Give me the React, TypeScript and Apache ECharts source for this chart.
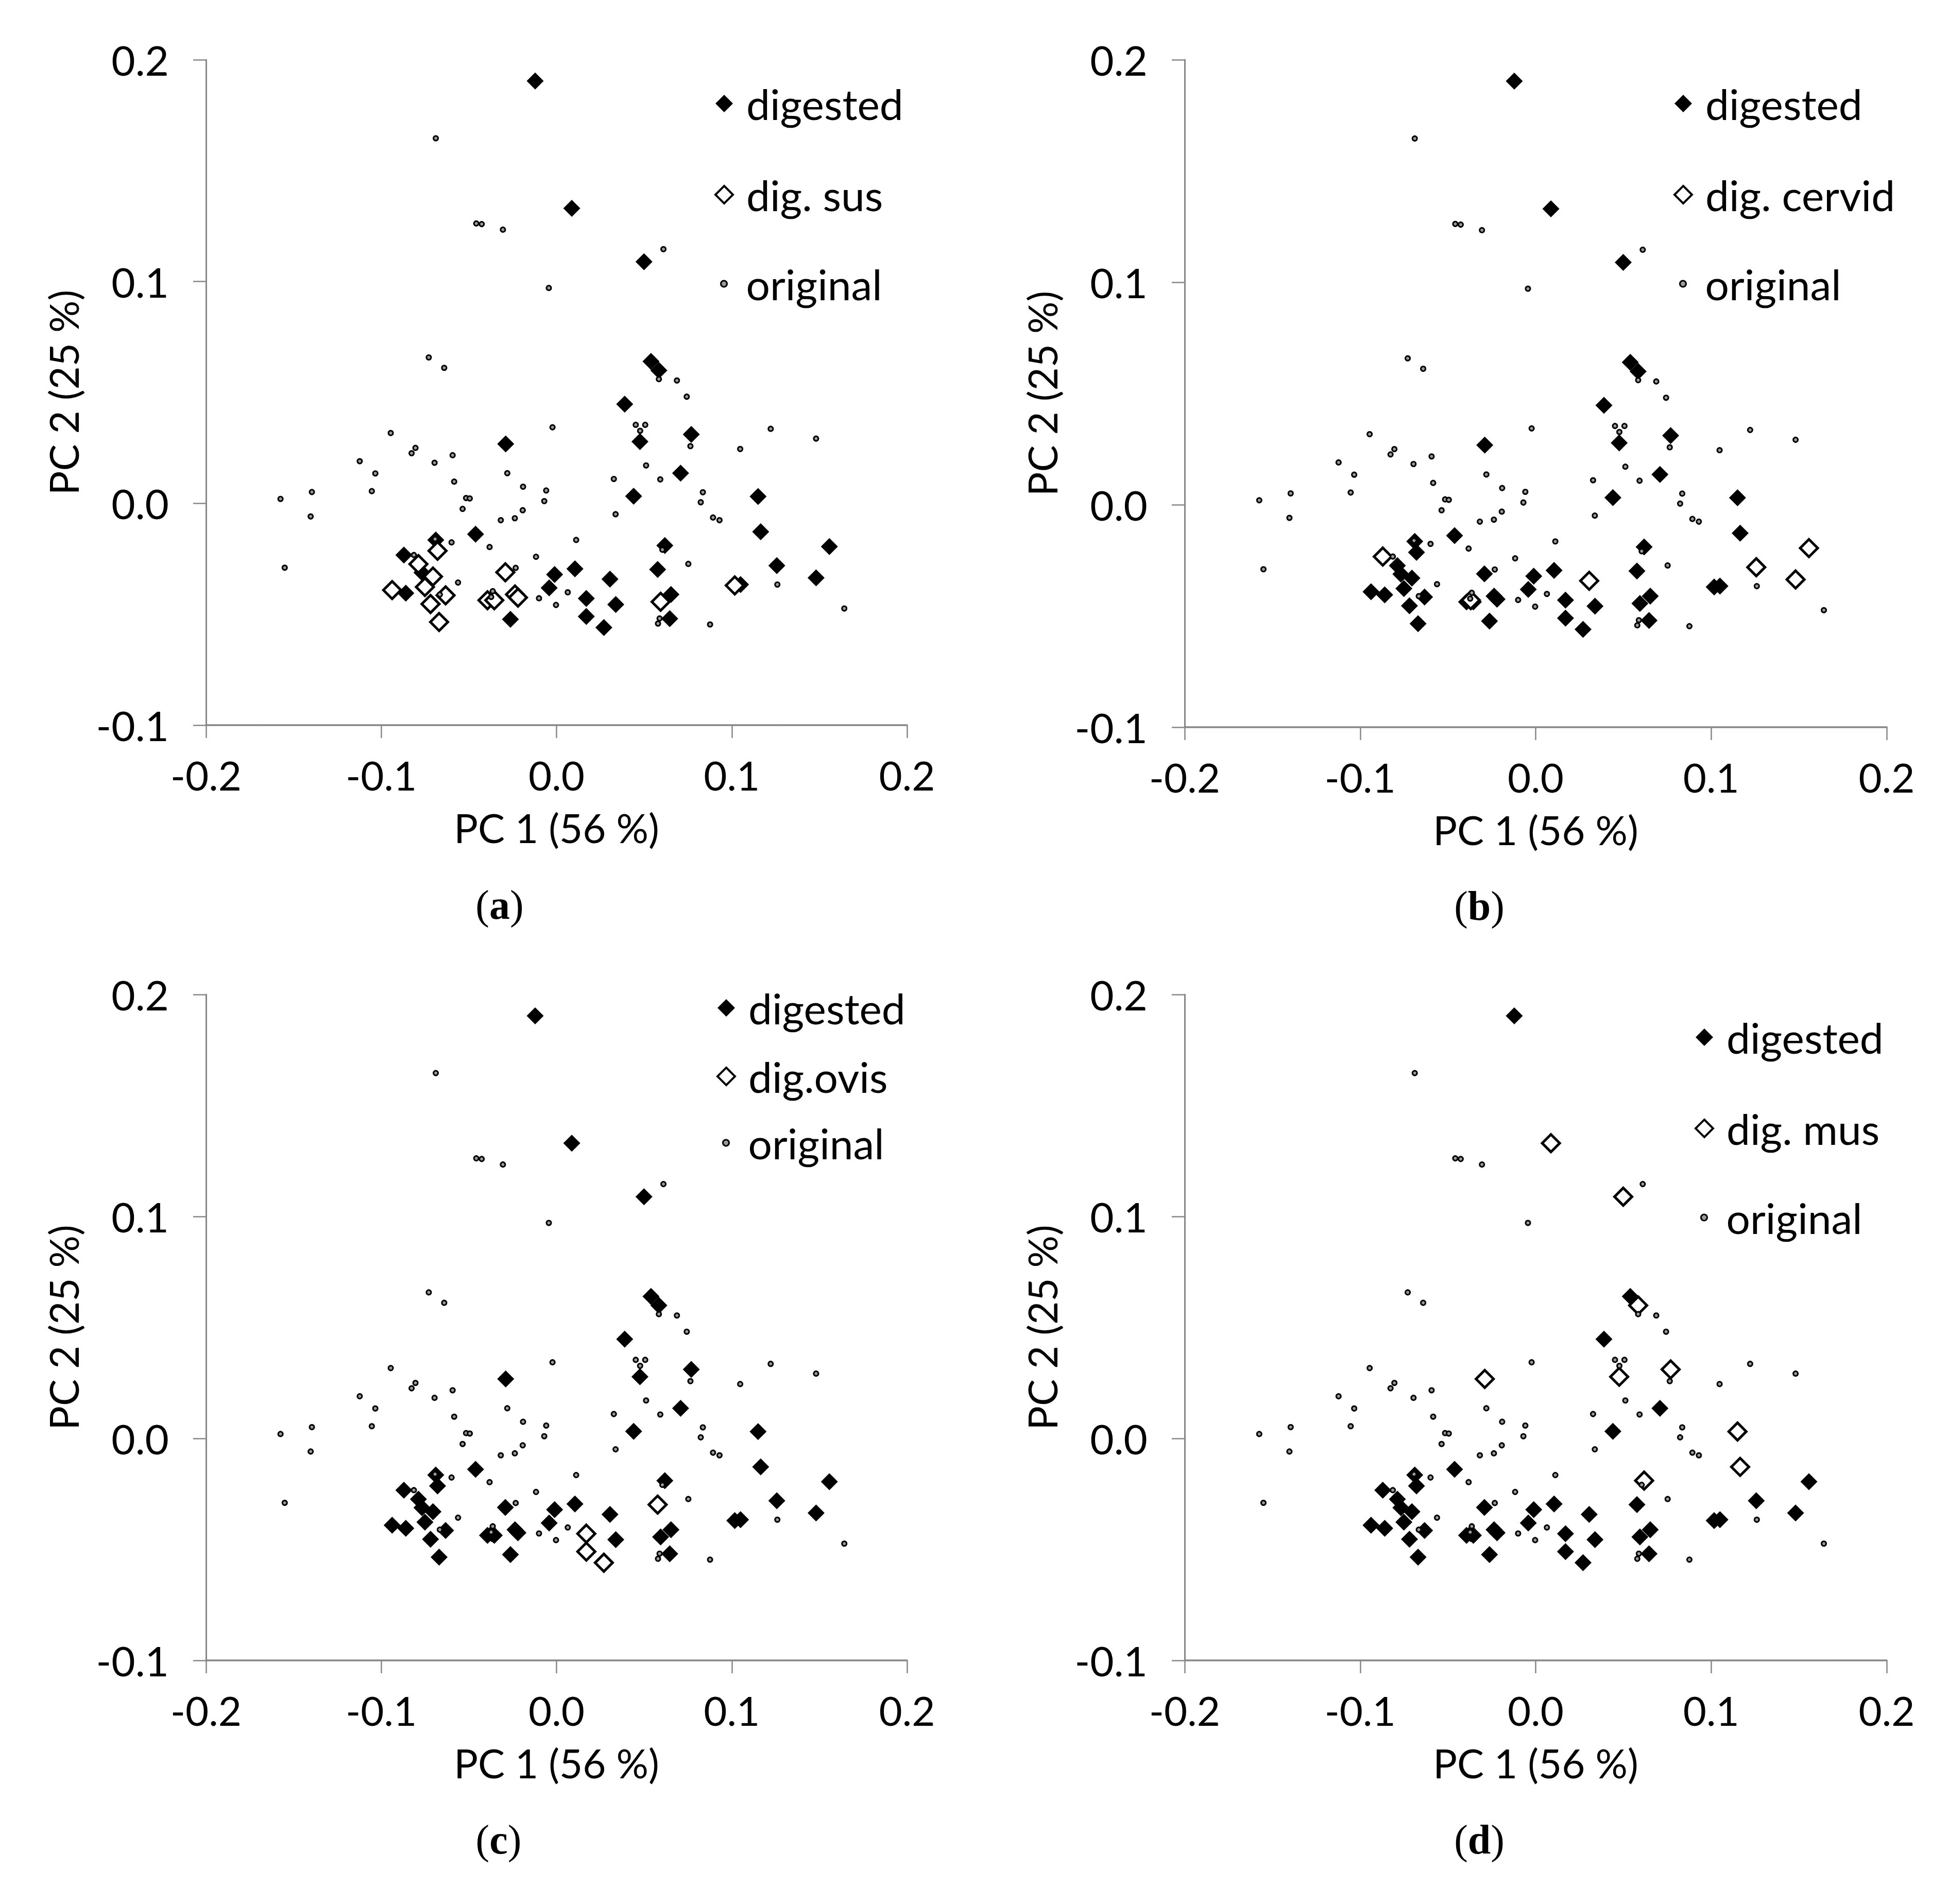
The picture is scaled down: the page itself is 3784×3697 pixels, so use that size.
import React, { useEffect, useRef } from 'react';
import * as echarts from 'echarts';

// ---- data (PC1, PC2) ----
const original: number[][] = [
  [-0.0689, 0.1646], [-0.0458, 0.1262], [-0.0427, 0.1259], [-0.0306, 0.1234], [0.0610, 0.1146],
  [-0.0044, 0.0971], [-0.0729, 0.0658], [-0.0641, 0.0611], [-0.0946, 0.0317], [-0.0805, 0.0250],
  [-0.0827, 0.0226], [-0.1123, 0.0190], [-0.0593, 0.0217], [-0.0696, 0.0183], [-0.1034, 0.0135],
  [-0.0281, 0.0136], [-0.0023, 0.0343], [-0.1396, 0.0051], [-0.1575, 0.0020], [-0.1054, 0.0055],
  [-0.0584, 0.0098], [-0.0516, 0.0024], [-0.0495, 0.0022], [-0.0191, 0.0075], [-0.0059, 0.0058],
  [-0.0070, 0.0010], [-0.0536, -0.0025], [-0.0193, -0.0031], [-0.0318, -0.0076], [-0.0238, -0.0067],
  [-0.1403, -0.0059], [-0.0599, -0.0176], [-0.0382, -0.0197], [0.0112, -0.0165], [-0.1551, -0.0290],
  [-0.0814, -0.0233], [-0.0562, -0.0357], [-0.0117, -0.0241], [-0.0233, -0.0291], [0.0064, -0.0401],
  [-0.0100, -0.0428], [-0.0003, -0.0458], [-0.0666, -0.0411], [-0.0364, -0.0396], [-0.0373, -0.0422],
  [-0.0693, -0.0161], [0.0584, 0.0560], [0.0687, 0.0554], [0.0743, 0.0481], [0.0452, 0.0354],
  [0.0506, 0.0354], [0.0477, 0.0327], [0.0764, 0.0258], [0.1222, 0.0336], [0.1481, 0.0292],
  [0.1048, 0.0245], [0.0511, 0.0171], [0.0327, 0.0110], [0.0592, 0.0108], [0.0835, 0.0050],
  [0.0823, 0.0005], [0.0337, -0.0049], [0.0893, -0.0064], [0.0930, -0.0076], [0.0604, -0.0209],
  [0.0752, -0.0273], [0.1260, -0.0366], [0.1642, -0.0474], [0.0588, -0.0519], [0.0579, -0.0542],
  [0.0876, -0.0546],
];

// digested samples not belonging to any highlighted group
const digOther: number[][] = [
  [-0.0122, 0.1904], [0.0539, 0.0640], [0.0389, 0.0447], [0.0708, 0.0136], [0.0440, 0.0032],
  [0.0338, -0.0456], [0.0653, -0.0411], [0.0646, -0.0520], [0.1050, -0.0366], [-0.0462, -0.0139],
  [-0.0689, -0.0165], [-0.0768, -0.0312], [-0.0860, -0.0405], [-0.0263, -0.0523], [-0.0011, -0.0321],
  [-0.0042, -0.0381], [0.0105, -0.0295],
];

const digSus: number[][] = [
  [-0.0679, -0.0214], [-0.0788, -0.0274], [-0.0705, -0.0330], [-0.0751, -0.0377], [-0.0938, -0.0391],
  [-0.0633, -0.0415], [-0.0719, -0.0454], [-0.0670, -0.0535], [-0.0292, -0.0311], [-0.0394, -0.0437],
  [-0.0355, -0.0437], [-0.0237, -0.0411], [-0.0220, -0.0425], [0.0594, -0.0444], [0.1017, -0.0370],
];

const digCervid: number[][] = [
  [-0.0871, -0.0233], [0.0305, -0.0342], [0.1557, -0.0195], [0.1257, -0.0281], [0.1481, -0.0336],
  [-0.0370, -0.0429],
];

const digOvis: number[][] = [
  [0.0577, -0.0298], [0.0270, -0.0560], [0.0170, -0.0429], [0.0170, -0.0510],
];

const digMus: number[][] = [
  [0.0087, 0.1330], [0.0499, 0.1089], [0.0584, 0.0599], [0.0476, 0.0278], [0.0769, 0.0311],
  [0.1150, 0.0031], [0.1165, -0.0128], [0.0618, -0.0190], [-0.0290, 0.0268],
];

const groups: Record<string, number[][]> = { sus: digSus, cervid: digCervid, ovis: digOvis, mus: digMus };

const xRange = [-0.2, 0.2];
const yRange = [-0.1, 0.2];
const tickStep = 0.1;
const xName = 'PC 1 (56 %)';
const yName = 'PC 2 (25 %)';

const FONT = 'Lato';
const FS = 78;
const LFS = 82;

const panels = [
  { group: 'sus', label: 'dig. sus', caption: 'a', grid: { left: 400, top: 116, width: 1361, height: 1292 }, lg: { x: 1404, y: 200, pitch: 175 }, cap: { x: 970, y: 1762 } },
  { group: 'cervid', label: 'dig. cervid', caption: 'b', grid: { left: 2300, top: 116, width: 1363, height: 1296 }, lg: { x: 3266, y: 200, pitch: 175 }, cap: { x: 2872, y: 1764 } },
  { group: 'ovis', label: 'dig.ovis', caption: 'c', grid: { left: 400, top: 1931, width: 1361, height: 1293 }, lg: { x: 1408, y: 1956, pitch: 131 }, cap: { x: 968, y: 3577 } },
  { group: 'mus', label: 'dig. mus', caption: 'd', grid: { left: 2300, top: 1931, width: 1363, height: 1293 }, lg: { x: 3307, y: 2013, pitch: 175 }, cap: { x: 2872, y: 3577 } },
];

const axisColor = '#878787';

function buildOption() {
  const grid: any[] = [];
  const xAxis: any[] = [];
  const yAxis: any[] = [];
  const series: any[] = [];
  const legend: any[] = [];
  const title: any[] = [];

  panels.forEach((p, i) => {
    grid.push({ ...p.grid });
    xAxis.push({
      type: 'value', gridIndex: i, min: xRange[0], max: xRange[1], interval: tickStep,
      name: xName, nameLocation: 'middle', nameGap: 160,
      nameTextStyle: { fontFamily: FONT, fontSize: FS, color: '#000' },
      axisLine: { show: true, onZero: false, lineStyle: { color: axisColor, width: 3.5 } },
      axisTick: { show: true, length: 25, lineStyle: { color: axisColor, width: 2.5 } },
      axisLabel: { fontFamily: FONT, fontSize: FS, color: '#000', margin: 58, formatter: (v: number) => v.toFixed(1) },
      splitLine: { show: false },
    });
    yAxis.push({
      type: 'value', gridIndex: i, min: yRange[0], max: yRange[1], interval: tickStep,
      name: yName, nameLocation: 'middle', nameGap: 238, nameRotate: 90,
      nameTextStyle: { fontFamily: FONT, fontSize: FS, color: '#000' },
      axisLine: { show: true, onZero: false, lineStyle: { color: axisColor, width: 3 } },
      axisTick: { show: true, length: 25, lineStyle: { color: axisColor, width: 2.5 } },
      axisLabel: { fontFamily: FONT, fontSize: FS + 2, color: '#000', margin: 72, formatter: (v: number) => v.toFixed(1) },
      splitLine: { show: false },
    });

    const black: number[][] = [...digOther];
    Object.keys(groups).forEach((k) => { if (k !== p.group) black.push(...groups[k]); });

    series.push({
      type: 'scatter', name: 'digested', xAxisIndex: i, yAxisIndex: i, data: black,
      symbol: 'diamond', symbolSize: 33, itemStyle: { color: '#000', borderWidth: 0, opacity: 1 },
    });
    series.push({
      type: 'scatter', name: p.label, xAxisIndex: i, yAxisIndex: i, data: groups[p.group],
      symbol: 'diamond', symbolSize: 34, itemStyle: { color: '#fff', borderColor: '#000', borderWidth: 5, opacity: 1 },
    });
    series.push({
      type: 'scatter', name: 'original', xAxisIndex: i, yAxisIndex: i, data: original,
      symbol: 'circle', symbolSize: 9, itemStyle: { color: '#9a9a9a', borderColor: '#000', borderWidth: 3, opacity: 1 },
    });

    const lh = 80;
    legend.push({
      orient: 'vertical', left: p.lg.x - 17, top: p.lg.y - lh / 2, padding: 0,
      itemWidth: 34, itemHeight: 34, itemGap: p.lg.pitch - lh,
      selectedMode: false,
      textStyle: { fontFamily: FONT, fontSize: LFS, lineHeight: lh, color: '#000', padding: [0, 0, 0, 21] },
      data: [
        { name: 'digested', icon: 'diamond', itemStyle: { color: '#000', borderWidth: 0, opacity: 1 } },
        { name: p.label, icon: 'diamond', itemStyle: { color: '#fff', borderColor: '#000', borderWidth: 4, opacity: 1 } },
      ],
    });
    legend.push({
      orient: 'vertical', left: p.lg.x - 6, top: p.lg.y + 2 * p.lg.pitch - lh / 2, padding: 0,
      itemWidth: 12, itemHeight: 12, selectedMode: false,
      textStyle: { fontFamily: FONT, fontSize: LFS, lineHeight: lh, color: '#000', padding: [0, 0, 0, 32] },
      data: [{ name: 'original', icon: 'circle', itemStyle: { color: '#9a9a9a', borderColor: '#000', borderWidth: 3, opacity: 1 } }],
    });

    title.push({
      text: `{p|(}{b|${p.caption}}{p|)}`,
      left: p.cap.x, top: p.cap.y - 45, textAlign: 'center', padding: 0,
      textStyle: {
        rich: {
          p: { fontFamily: 'Liberation Serif', fontSize: 80, color: '#000', fontWeight: 'normal' },
          b: { fontFamily: 'Liberation Serif', fontSize: 80, color: '#000', fontWeight: 'bold' },
        },
      },
    });
  });

  return { animation: false, backgroundColor: '#fff', grid, xAxis, yAxis, series, legend, title };
}

export default function App() {
  const ref = useRef<HTMLDivElement>(null);
  useEffect(() => {
    if (!ref.current) return;
    const chart = echarts.init(ref.current, undefined, { renderer: 'svg' });
    chart.setOption(buildOption() as any);
    return () => chart.dispose();
  }, []);
  return <div ref={ref} style={{ position: 'absolute', left: 0, top: 0, width: 3784, height: 3697 }} />;
}
